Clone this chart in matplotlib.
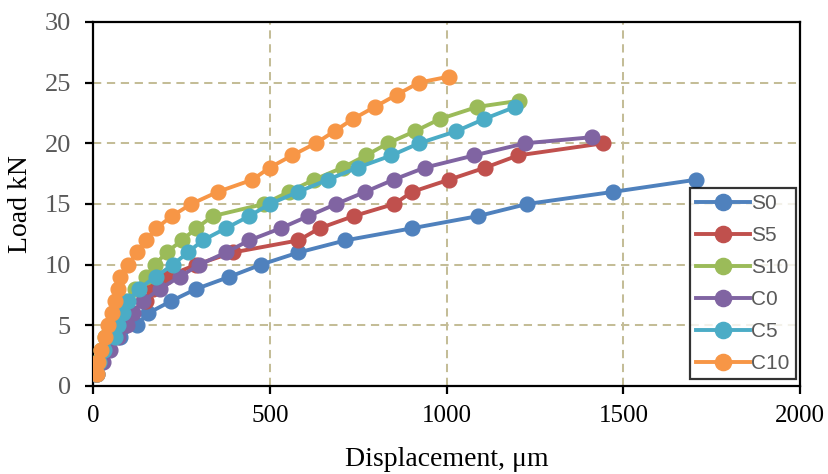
import matplotlib.pyplot as plt

# Load (kN) vs displacement (um) for each specimen
s0_disp = [6, 14, 34, 76, 123, 156, 221, 292, 386, 475, 581, 714, 903, 1089, 1228, 1472, 1706]
s0_load = [1, 2, 3, 4, 5, 6, 7, 8, 9, 10, 11, 12, 13, 14, 15, 16, 17]

s5_disp = [8, 20, 35, 55, 80, 100, 151, 170, 207, 292, 395, 581, 641, 737, 852, 903, 1007, 1110, 1202, 1443]
s5_load = [1, 2, 3, 4, 5, 6, 7, 8, 9, 10, 11, 12, 13, 14, 15, 16, 17, 18, 19, 20]

s10_disp = [8, 12, 22, 35, 50, 65, 90, 120, 150, 175, 208, 251, 292, 339, 484, 554, 625, 706, 772, 834, 911, 981, 1087, 1204]
s10_load = [1, 2, 3, 4, 5, 6, 7, 8, 9, 10, 11, 12, 13, 14, 15, 16, 17, 18, 19, 20, 21, 22, 23, 23.5]

c0_disp = [10, 29, 48, 71, 95, 113, 142, 189, 245, 301, 376, 442, 531, 609, 688, 770, 850, 939, 1078, 1222, 1410]
c0_load = [1, 2, 3, 4, 5, 6, 7, 8, 9, 10, 11, 12, 13, 14, 15, 16, 17, 18, 19, 20, 20.5]

c5_disp = [10, 18, 30, 62, 71, 85, 99, 130, 177, 226, 268, 310, 376, 442, 500, 581, 664, 749, 844, 922, 1028, 1106, 1194]
c5_load = [1, 2, 3, 4, 5, 6, 7, 8, 9, 10, 11, 12, 13, 14, 15, 16, 17, 18, 19, 20, 21, 22, 23]

c10_disp = [10, 15, 24, 34, 43, 53, 62, 71, 76, 99, 125, 151, 179, 223, 278, 353, 451, 500, 563, 630, 683, 735, 797, 859, 922, 1007]
c10_load = [1, 2, 3, 4, 5, 6, 7, 8, 9, 10, 11, 12, 13, 14, 15, 16, 17, 18, 19, 20, 21, 22, 23, 24, 25, 25.5]

names = ['S0', 'S5', 'S10', 'C0', 'C5', 'C10']
colors = ['#4F81BD', '#C0504D', '#9BBB59', '#8064A2', '#4BACC6', '#F79646']
series = [(s0_disp, s0_load), (s5_disp, s5_load), (s10_disp, s10_load),
          (c0_disp, c0_load), (c5_disp, c5_load), (c10_disp, c10_load)]

fig = plt.figure(figsize=(8.29, 4.74), dpi=100)
ax = fig.add_axes([0.1122, 0.1857, 0.853, 0.768])

for (x, y), name, c in zip(series, names, colors):
    ax.plot(x, y, '-o', color=c, lw=2.8, ms=10.6, label=name, zorder=3)

ax.set_xlim(0, 2000)
ax.set_ylim(0, 30)
ax.set_xticks([0, 500, 1000, 1500, 2000])
ax.set_yticks([0, 5, 10, 15, 20, 25, 30])
ax.grid(True, color='#C4BD97', linestyle=(0, (4.1, 2.8)), linewidth=1.45, zorder=0)

for sp in ax.spines.values():
    sp.set_linewidth(1.6)
    sp.set_color('black')
ax.tick_params(direction='out', length=6, width=1.6, top=False, right=False)

serif = 'Liberation Serif'
for t in ax.get_yticklabels():
    t.set_fontfamily(serif)
    t.set_fontsize(19)
    t.set_color('#595959')
for t in ax.get_xticklabels():
    t.set_fontfamily(serif)
    t.set_fontsize(18)
    t.set_color('black')
ax.tick_params(axis='x', pad=8)
ax.tick_params(axis='y', pad=10)

ax.set_xlabel('Displacement, \u03bcm', fontfamily=serif, fontsize=20, labelpad=14)
ax.set_ylabel('Load kN', fontfamily=serif, fontsize=20, labelpad=8)

leg = ax.legend(loc='lower right', bbox_to_anchor=(0.9943, 0.019), frameon=True, fancybox=False,
                edgecolor='black', borderaxespad=0, handlelength=2.6, labelspacing=0.62,
                prop={'family': 'Liberation Sans', 'size': 15}, handletextpad=0.05, borderpad=0.3,
                markerscale=1.1)
leg.get_frame().set_linewidth(1.6)
for t in leg.get_texts():
    t.set_color('#595959')

fig.savefig('out.png', dpi=100)
